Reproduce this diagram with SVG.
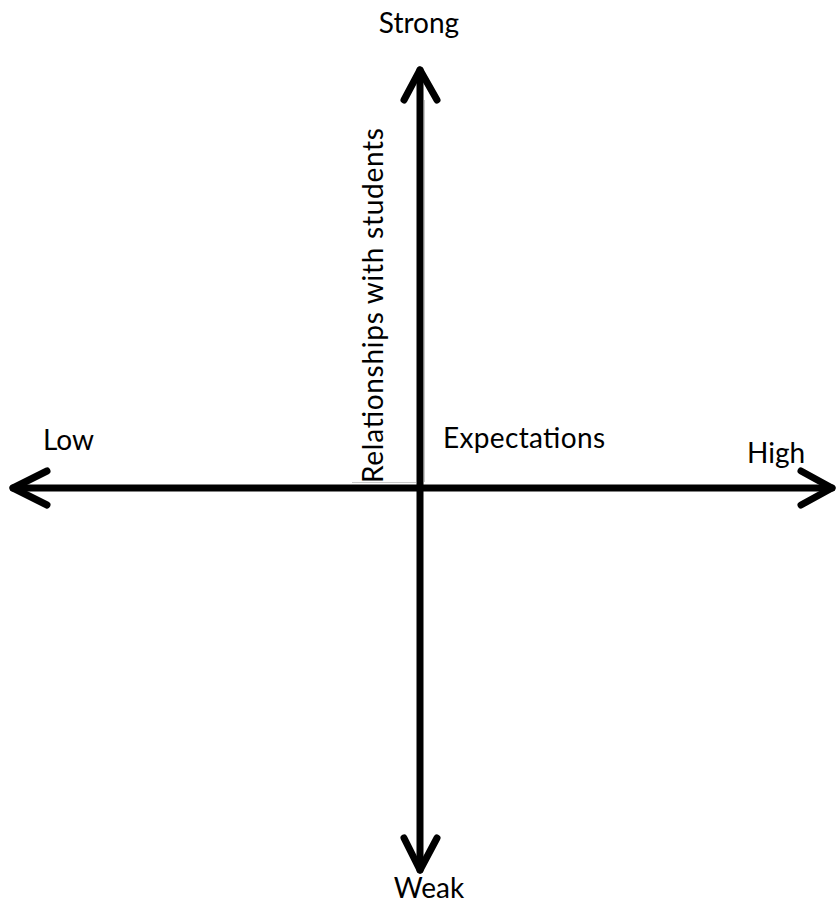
<svg xmlns="http://www.w3.org/2000/svg" width="837" height="911" viewBox="0 0 837 911">
<style>
.ax{stroke:#000;stroke-width:7;fill:none;stroke-linecap:round;stroke-linejoin:round}
.t{font-family:Lato,"Open Sans","Liberation Sans",sans-serif;font-size:28px;fill:#000}
.faint{stroke:#c8c8c8;stroke-width:1;fill:none}
</style>
<rect width="837" height="911" fill="#fff"/>
<g id="connectors">
<path class="faint" d="M352 482.5H416M424.5 100V482"/>
<path class="ax" d="M420 70V870"/>
<path class="ax" d="M13 488H832"/>
<path class="ax" d="M404 100L420 70L437 100"/>
<path class="ax" d="M404 838L420 870L437 838"/>
<path class="ax" d="M47 471L13 488L47 505"/>
<path class="ax" d="M801 471L832 488L801 505"/>
</g>
<g id="strong"><text class="t" x="419" y="33" text-anchor="middle">Strong</text></g>
<g id="weak"><text class="t" x="429" y="898" text-anchor="middle">Weak</text></g>
<g id="low"><text class="t" x="43" y="450">Low</text></g>
<g id="high"><text class="t" x="747" y="463">High</text></g>
<g id="expectations"><text class="t" x="443" y="448" textLength="162">Expectations</text></g>
<g id="relationships"><text class="t" transform="translate(383 483) rotate(-90)" textLength="355">Relationships with students</text></g>
</svg>
